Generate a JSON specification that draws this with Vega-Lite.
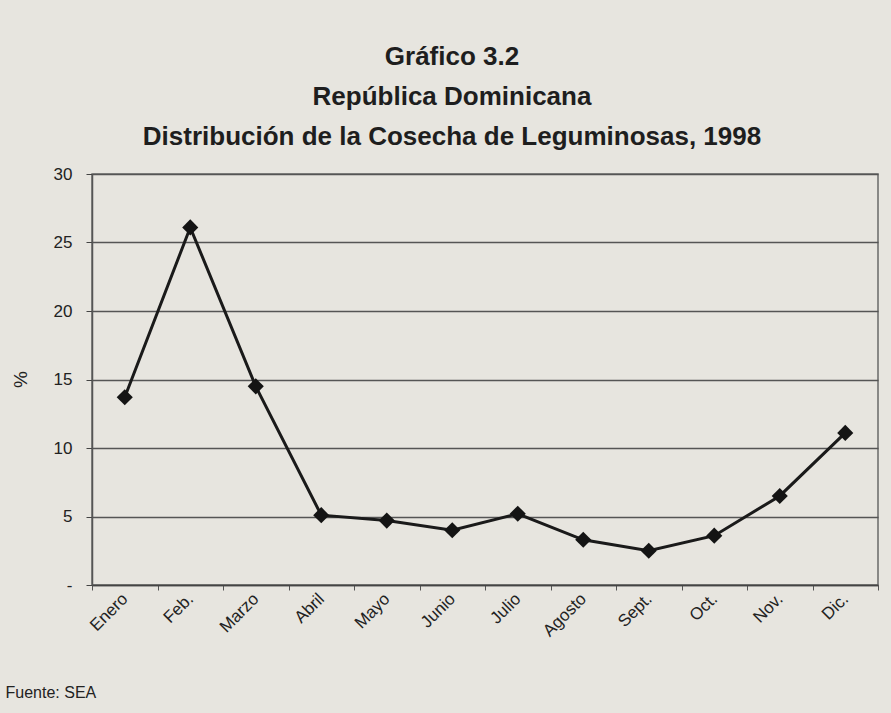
{
  "$schema": "https://vega.github.io/schema/vega-lite/v6.json",
  "width": 786,
  "height": 411,
  "autosize": "none",
  "padding": {"left": 92, "top": 174, "right": 13, "bottom": 128},
  "background": "#e7e5df",
  "title": {
    "text": ["Gráfico 3.2", "República Dominicana", "Distribución de la Cosecha de Leguminosas, 1998"],
    "anchor": "middle",
    "frame": "group",
    "dx": -33,
    "offset": 15,
    "font": "Liberation Sans",
    "fontSize": 26,
    "fontWeight": "bold",
    "lineHeight": 40,
    "color": "#1e1e1e"
  },
  "config": {
    "view": {"stroke": "#6a6a6a", "strokeWidth": 1.5},
    "axis": {"labelFont": "Liberation Sans", "titleFont": "Liberation Sans", "labelColor": "#222", "titleColor": "#222"}
  },
  "data": {
    "values": [
      {"mes": "Enero", "pct": 13.7},
      {"mes": "Feb.", "pct": 26.1},
      {"mes": "Marzo", "pct": 14.5},
      {"mes": "Abril", "pct": 5.1},
      {"mes": "Mayo", "pct": 4.7},
      {"mes": "Junio", "pct": 4.0},
      {"mes": "Julio", "pct": 5.2},
      {"mes": "Agosto", "pct": 3.3},
      {"mes": "Sept.", "pct": 2.5},
      {"mes": "Oct.", "pct": 3.6},
      {"mes": "Nov.", "pct": 6.5},
      {"mes": "Dic.", "pct": 11.1}
    ]
  },
  "encoding": {
    "x": {
      "field": "mes",
      "type": "nominal",
      "sort": null,
      "scale": {"type": "band", "paddingInner": 0, "paddingOuter": 0},
      "axis": {
        "title": "Fuente: SEA",
        "titleAnchor": "start",
        "titleAlign": "left",
        "titleBaseline": "alphabetic",
        "titleX": -87,
        "titleY": 112,
        "titleFontSize": 16,
        "titleFontWeight": "normal",
        "labelAngle": -45,
        "labelAlign": "right",
        "labelBaseline": "middle",
        "labelFontSize": 17,
        "labelPadding": 6,
        "tickBand": "extent",
        "ticks": true,
        "tickSize": 5,
        "tickColor": "#555",
        "domainColor": "#444",
        "domainWidth": 1.5,
        "grid": false
      }
    },
    "y": {
      "field": "pct",
      "type": "quantitative",
      "scale": {"domain": [0, 30], "nice": false},
      "axis": {
        "title": "%",
        "titleAngle": 270,
        "titleFontSize": 19,
        "titleFontWeight": "normal",
        "titleX": -62,
        "titleY": 205,
        "values": [0, 5, 10, 15, 20, 25, 30],
        "labelExpr": "datum.value == 0 ? '-' : datum.label",
        "labelFontSize": 17,
        "labelPadding": 14,
        "tickSize": 6,
        "tickColor": "#444",
        "domainColor": "#555",
        "domainWidth": 1.5,
        "grid": true,
        "gridColor": "#555",
        "gridWidth": 1.3
      }
    }
  },
  "layer": [
    {"mark": {"type": "line", "color": "#1a1a1a", "strokeWidth": 3}},
    {"mark": {"type": "point", "shape": "diamond", "filled": true, "color": "#141414", "size": 260, "opacity": 1}}
  ]
}
